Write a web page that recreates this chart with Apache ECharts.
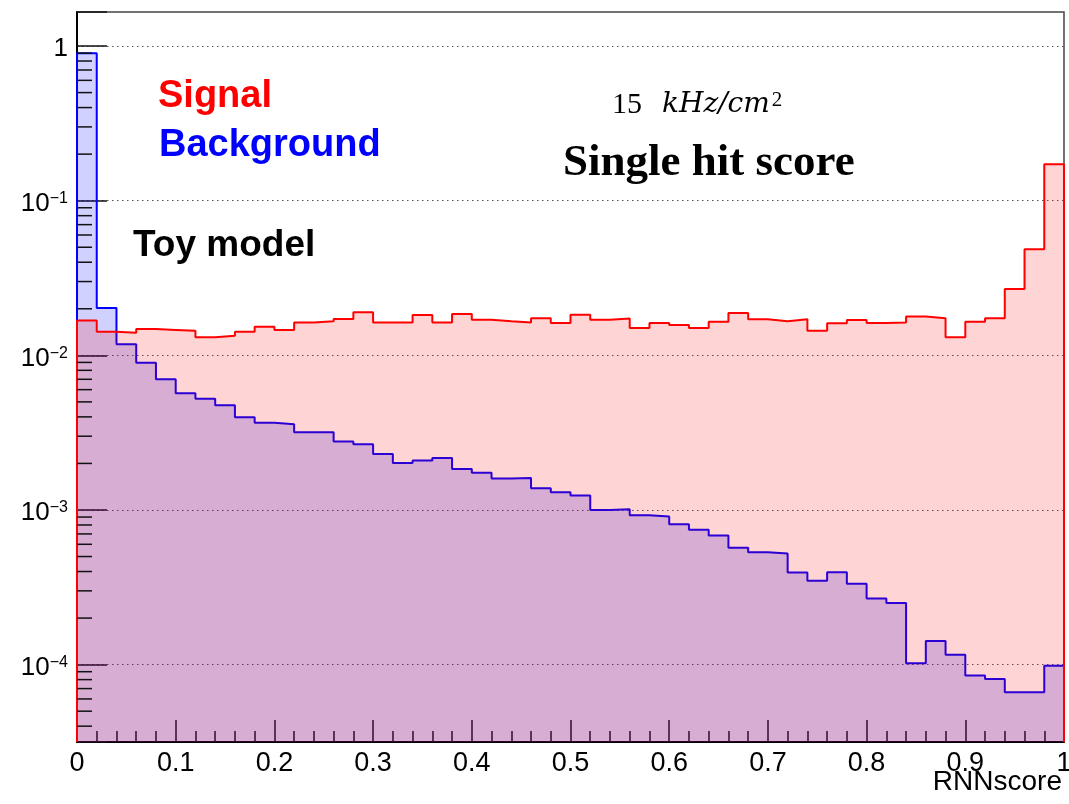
<!DOCTYPE html>
<html>
<head>
<meta charset="utf-8">
<title>RNN score – single hit</title>
<script src="https://cdn.jsdelivr.net/npm/echarts@6.0.0/dist/echarts.min.js"></script>
<style>
  html, body { margin: 0; padding: 0; background: #ffffff; }
  #chart { width: 1069px; height: 804px; }
</style>
</head>
<body>
<div id="chart"></div>
<script>
// Histogram binning: 50 bins of width 0.02 over RNNscore in [0, 1]
const BIN_WIDTH = 0.02;

// Normalised bin contents, Signal
const signal = [
  0.0168, 0.0142, 0.0140, 0.0148, 0.0146, 0.0144, 0.0131, 0.0134, 0.0142, 0.0153,
  0.0146, 0.0163, 0.0166, 0.0172, 0.0190, 0.0163, 0.0163, 0.0182, 0.0163, 0.0185,
  0.0170, 0.0166, 0.0163, 0.0174, 0.0162, 0.0183, 0.0170, 0.0173, 0.0150, 0.0162,
  0.0157, 0.0150, 0.0165, 0.0188, 0.0171, 0.0166, 0.0171, 0.0144, 0.0161, 0.0169,
  0.0162, 0.0163, 0.0178, 0.0174, 0.0131, 0.0165, 0.0174, 0.0268, 0.0485, 0.172
];

// Normalised bin contents, Background
const background = [
  0.897, 0.0202, 0.0118, 0.00897, 0.00701, 0.00569, 0.00523, 0.00476, 0.00398, 0.00367,
  0.00359, 0.00318, 0.00318, 0.00277, 0.00266, 0.00230, 0.00201, 0.00209, 0.00217, 0.00184,
  0.00174, 0.00160, 0.00161, 0.00138, 0.00130, 0.00124, 0.00100, 0.00101, 0.000926, 0.000906,
  0.000810, 0.000744, 0.000683, 0.000569, 0.000532, 0.000523, 0.000394, 0.000348, 0.000396, 0.000333,
  0.000268, 0.000250, 0.000102, 0.000142, 0.000116, 0.0000850, 0.0000806, 0.0000664, 0.0000664, 0.0000982
];

// Y range of the log axis
const Y_MIN = 3.16e-5;
const Y_MAX = 1.66;

// Log-axis minor tick multipliers and decades
const minorMultipliers = [2, 3, 4, 5, 6, 7, 8, 9];
const decades = [-5, -4, -3, -2, -1];

// Text annotations
const labelSignal = 'Signal';
const labelBackground = 'Background';
const labelModel = 'Toy model';
const labelRate = ['15', 'kHz/cm', '2'];
const labelTitle = 'Single hit score';
const xAxisName = 'RNNscore';

// Step outline for a histogram, closed down to the axis floor at both ends
function histPoints(values) {
  const pts = [[0, Y_MIN]];
  values.forEach((v, i) => pts.push([i * BIN_WIDTH, v]));
  pts.push([values.length * BIN_WIDTH, values[values.length - 1]]);
  pts.push([values.length * BIN_WIDTH, Y_MIN]);
  return pts;
}

const minorTickValues = [];
decades.forEach(d => minorMultipliers.forEach(m => {
  const v = m * Math.pow(10, d);
  if (v > Y_MIN && v < Y_MAX) minorTickValues.push(v);
}));

function decadeLabel(v) {
  const lg = Math.log10(v);
  const e = Math.round(lg);
  if (Math.abs(lg - e) > 1e-6) return '';
  if (e === 0) return '{b|1}';
  return '{b|10}{s|' + (e < 0 ? '\u2212' : '') + Math.abs(e) + '}';
}

const chart = echarts.init(document.getElementById('chart'), null, { renderer: 'canvas' });

const sans = 'Liberation Sans, Arial, Helvetica, sans-serif';
const serif = 'Liberation Serif, Times New Roman, serif';

chart.setOption({
  backgroundColor: '#ffffff',
  animation: false,
  grid: {
    left: 77, right: 5, top: 12, bottom: 62,
    containLabel: false, outerBoundsMode: 'none',
    show: true, borderColor: '#444', borderWidth: 1.5, backgroundColor: 'transparent'
  },
  title: [
    { text: labelSignal, left: 158, top: 78, padding: 0,
      textStyle: { fontFamily: sans, fontWeight: 'bold', fontSize: 38, lineHeight: 38, color: '#ff0000' } },
    { text: labelBackground, left: 159, top: 127, padding: 0,
      textStyle: { fontFamily: sans, fontWeight: 'bold', fontSize: 38, lineHeight: 38, color: '#0000ff' } },
    { text: labelModel, left: 133, top: 227, padding: 0,
      textStyle: { fontFamily: sans, fontWeight: 'bold', fontSize: 37, lineHeight: 37, color: '#000' } },
    { text: '{n|' + labelRate[0] + '}{i|' + labelRate[1] + '}{s|' + labelRate[2] + '}', left: 612, top: 90, padding: 0,
      textStyle: {
        fontWeight: 'normal',
        rich: {
          n: { fontFamily: serif, fontWeight: 'normal', fontSize: 30, lineHeight: 30, color: '#000', padding: [0, 20, 0, 0] },
          i: { fontFamily: 'DejaVu Serif', fontWeight: 'normal', fontStyle: 'italic', fontSize: 28, lineHeight: 30, color: '#000', padding: [0, 2, 0, 0] },
          s: { fontFamily: serif, fontWeight: 'normal', fontSize: 21, lineHeight: 24, verticalAlign: 'top', color: '#000' }
        }
      } },
    { text: labelTitle, left: 563, top: 141, padding: 0,
      textStyle: { fontFamily: serif, fontWeight: 'bold', fontSize: 45, lineHeight: 45, color: '#000' } },
    { text: xAxisName, right: 7, top: 768, padding: 0,
      textStyle: { fontFamily: sans, fontWeight: 'normal', fontSize: 28, lineHeight: 28, color: '#000' } }
  ],
  xAxis: {
    type: 'value', min: 0, max: 1, interval: 0.1,
    axisLine: { show: true, lineStyle: { color: '#000', width: 2 } },
    axisTick: { show: true, inside: true, length: 22, lineStyle: { color: '#111', width: 1.5 } },
    minorTick: { show: true, splitNumber: 5, length: 11, lineStyle: { color: '#111', width: 1.5 } },
    splitLine: { show: false },
    axisLabel: { fontFamily: sans, fontSize: 27, lineHeight: 27, color: '#000', margin: 8 }
  },
  yAxis: {
    type: 'log', logBase: 10, min: Y_MIN, max: Y_MAX,
    axisLine: { show: true, lineStyle: { color: '#000', width: 2 } },
    axisTick: { show: true, inside: true, length: 30, lineStyle: { color: '#111', width: 1.5 } },
    splitLine: { show: true, showMinLine: false, showMaxLine: false,
      lineStyle: { color: '#555', width: 1, type: [1.5, 3.5] } },
    axisLabel: {
      margin: 9, padding: [6, 0, 0, 0], formatter: decadeLabel,
      rich: {
        b: { fontFamily: sans, fontSize: 26, lineHeight: 26, color: '#000' },
        s: { fontFamily: sans, fontSize: 16, lineHeight: 13, verticalAlign: 'top', color: '#000' }
      }
    }
  },
  series: [
    {
      name: 'Background', type: 'line', step: 'end', symbol: 'none',
      data: histPoints(background),
      itemStyle: { color: '#0000ff' },
      lineStyle: { color: '#0000ff', width: 2 },
      areaStyle: { color: 'rgba(0,0,255,0.18)', opacity: 1, origin: 'start' },
      z: 2
    },
    {
      name: 'Signal', type: 'line', step: 'end', symbol: 'none',
      data: histPoints(signal),
      itemStyle: { color: '#ff0000' },
      lineStyle: { color: '#ff0000', width: 2 },
      areaStyle: { color: 'rgba(255,0,0,0.17)', opacity: 1, origin: 'start' },
      z: 3
    },
    {
      // minor ticks of the log axis at 2..9 x 10^n
      name: 'yMinorTicks', type: 'custom', silent: true, z: 5,
      data: minorTickValues.map(v => [0, v]),
      renderItem: function (params, api) {
        const p = api.coord([api.value(0), api.value(1)]);
        return {
          type: 'line',
          shape: { x1: p[0], y1: p[1], x2: p[0] + 15, y2: p[1] },
          style: { stroke: '#111', lineWidth: 1.5 }
        };
      }
    }
  ]
});
</script>
</body>
</html>
